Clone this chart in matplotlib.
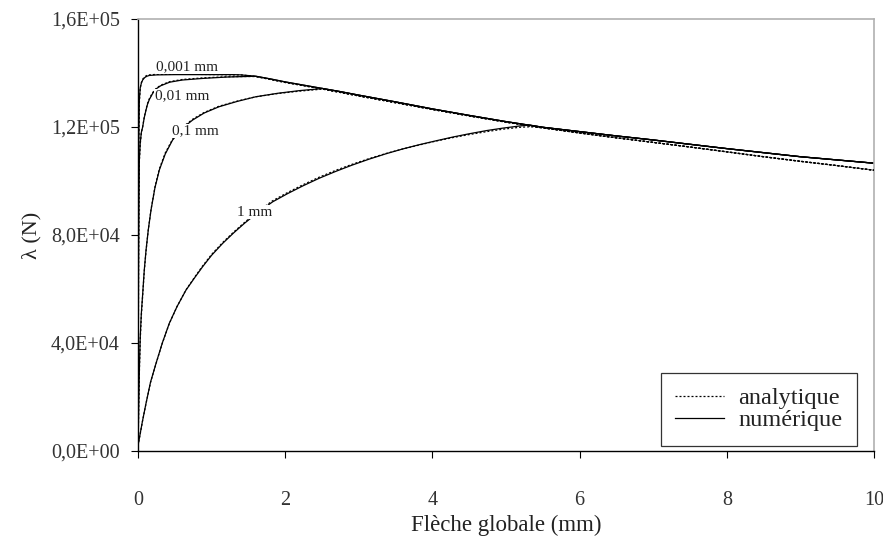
import matplotlib
matplotlib.use("Agg")
import matplotlib.pyplot as plt
from matplotlib.ticker import FixedLocator, FixedFormatter

plt.rcParams["font.family"] = ["Liberation Serif", "DejaVu Serif"]

# load-deflection curves, one per initial imperfection (mm)
case_labels = ["0,001 mm", "0,01 mm", "0,1 mm", "1 mm"]

# rising parts, numerical model
num_x_0001 = [0, 0.003, 0.006, 0.01, 0.018, 0.03, 0.045, 0.063, 0.09, 0.12, 0.154, 0.25, 0.5, 0.8, 1.1, 1.3]
num_y_0001 = [0, 4.0e4, 8.0e4, 1.15e5, 1.30e5, 1.345e5, 1.362e5, 1.374e5, 1.383e5, 1.388e5, 1.391e5,
              1.393e5, 1.394e5, 1.394e5, 1.394e5, 1.394e5]
num_x_001 = [0, 0.004, 0.008, 0.012, 0.018, 0.03, 0.045, 0.063, 0.085, 0.109, 0.13, 0.154, 0.2, 0.25,
             0.31, 0.43, 0.6, 0.88, 1.2, 1.45]
num_y_001 = [0, 4.0e4, 7.5e4, 9.5e4, 1.078e5, 1.14e5, 1.18e5, 1.20e5, 1.235e5, 1.263e5, 1.285e5, 1.302e5,
             1.325e5, 1.342e5, 1.353e5, 1.366e5, 1.374e5, 1.38e5, 1.385e5, 1.387e5]
num_x_01 = [0, 0.01, 0.02, 0.03, 0.045, 0.063, 0.085, 0.109, 0.14, 0.177, 0.23, 0.29, 0.37, 0.47, 0.6,
            0.743, 0.9, 1.1, 1.35, 1.6, 1.9, 2.2, 2.45]
num_y_01 = [0, 1.8e4, 3.2e4, 4.2e4, 5.1e4, 5.8e4, 6.7e4, 7.44e4, 8.2e4, 8.93e4, 9.75e4, 1.041e5, 1.10e5,
            1.152e5, 1.195e5, 1.226e5, 1.252e5, 1.275e5, 1.295e5, 1.312e5, 1.325e5, 1.335e5, 1.341e5]
num_x_1 = [0, 0.03, 0.06, 0.109, 0.17, 0.245, 0.33, 0.425, 0.53, 0.652, 0.77, 0.879, 1.0, 1.15, 1.3,
           1.445, 1.63, 1.83, 2.03, 2.24, 2.46, 2.69, 2.91, 3.14, 3.37, 3.6, 3.83, 4.05, 4.28, 4.5,
           4.74, 4.96, 5.19, 5.33]
num_y_1 = [2.0e3, 6.5e3, 1.1e4, 1.77e4, 2.55e4, 3.25e4, 4.0e4, 4.73e4, 5.35e4, 5.96e4, 6.42e4, 6.83e4,
           7.25e4, 7.69e4, 8.08e4, 8.43e4, 8.84e4, 9.23e4, 9.53e4, 9.82e4, 1.01e5, 1.036e5, 1.059e5,
           1.081e5, 1.101e5, 1.119e5, 1.135e5, 1.149e5, 1.163e5, 1.175e5, 1.187e5, 1.196e5, 1.204e5, 1.207e5]

# rising parts, analytical model
ana_x_0001 = [0, 0.003, 0.006, 0.01, 0.018, 0.03, 0.045, 0.063, 0.09, 0.12, 0.154, 0.25, 0.5, 0.8, 1.1, 1.3]
ana_y_0001 = [0, 3.8e4, 7.8e4, 1.13e5, 1.29e5, 1.343e5, 1.364e5, 1.377e5, 1.386e5, 1.391e5, 1.393e5,
              1.395e5, 1.395e5, 1.395e5, 1.394e5, 1.393e5]
ana_x_001 = [0, 0.004, 0.008, 0.012, 0.018, 0.03, 0.045, 0.063, 0.085, 0.109, 0.13, 0.154, 0.2, 0.25,
             0.31, 0.43, 0.6, 0.88, 1.2, 1.45]
ana_y_001 = [0, 3.8e4, 7.3e4, 9.3e4, 1.07e5, 1.135e5, 1.178e5, 1.20e5, 1.237e5, 1.266e5, 1.288e5, 1.305e5,
             1.328e5, 1.344e5, 1.355e5, 1.368e5, 1.376e5, 1.382e5, 1.386e5, 1.387e5]
ana_x_01 = [0, 0.01, 0.02, 0.03, 0.045, 0.063, 0.085, 0.109, 0.14, 0.177, 0.23, 0.29, 0.37, 0.47, 0.6,
            0.743, 0.9, 1.1, 1.35, 1.6, 1.9, 2.2, 2.45]
ana_y_01 = [0, 1.7e4, 3.1e4, 4.1e4, 5.0e4, 5.75e4, 6.65e4, 7.4e4, 8.2e4, 8.95e4, 9.78e4, 1.045e5, 1.104e5,
            1.155e5, 1.198e5, 1.229e5, 1.254e5, 1.277e5, 1.296e5, 1.312e5, 1.324e5, 1.333e5, 1.339e5]
ana_x_1 = [0, 0.03, 0.06, 0.109, 0.17, 0.245, 0.33, 0.425, 0.53, 0.652, 0.77, 0.879, 1.0, 1.15, 1.3,
           1.445, 1.63, 1.83, 2.03, 2.24, 2.46, 2.69, 2.91, 3.14, 3.37, 3.6, 3.83, 4.05, 4.28, 4.5,
           4.74, 4.96, 5.19, 5.33]
ana_y_1 = [2.0e3, 6.4e3, 1.09e4, 1.76e4, 2.54e4, 3.24e4, 3.99e4, 4.72e4, 5.35e4, 5.97e4, 6.44e4, 6.86e4,
           7.28e4, 7.72e4, 8.11e4, 8.46e4, 8.88e4, 9.27e4, 9.57e4, 9.86e4, 1.014e5, 1.04e5, 1.062e5,
           1.083e5, 1.102e5, 1.119e5, 1.134e5, 1.148e5, 1.161e5, 1.172e5, 1.183e5, 1.192e5, 1.199e5, 1.201e5]

# common post-buckling branch
num_tail_x = [1.4, 1.6, 1.8, 2.0, 2.25, 2.5, 2.75, 3.0, 3.5, 4.0, 4.5, 5.0, 5.5, 6.0, 6.5, 7.0,
              7.5, 8.0, 8.5, 9.0, 9.5, 10.0]
num_tail_y = [1.393e5, 1.388e5, 1.378e5, 1.367e5, 1.355e5, 1.343e5, 1.331e5, 1.318e5, 1.293e5, 1.267e5,
              1.243e5, 1.22e5, 1.199e5, 1.183e5, 1.167e5, 1.152e5, 1.136e5, 1.12e5, 1.105e5, 1.09e5,
              1.078e5, 1.066e5]
ana_tail_x = [1.4, 1.6, 1.8, 2.0, 2.25, 2.5, 2.75, 3.0, 3.5, 4.0, 4.5, 5.0, 5.5, 6.0, 6.5, 7.0,
              7.5, 8.0, 8.5, 9.0, 9.5, 10.0]
ana_tail_y = [1.393e5, 1.387e5, 1.376e5, 1.365e5, 1.353e5, 1.341e5, 1.328e5, 1.315e5, 1.29e5, 1.265e5,
              1.241e5, 1.218e5, 1.197e5, 1.178e5, 1.16e5, 1.143e5, 1.126e5, 1.108e5, 1.09e5, 1.073e5,
              1.057e5, 1.04e5]

y_ticks = [0, 4e4, 8e4, 1.2e5, 1.6e5]
y_tick_labels = ["0,0E+00", "4,0E+04", "8,0E+04", "1,2E+05", "1,6E+05"]
x_ticks = [0, 2, 4, 6, 8, 10]

# label positions for each curve (data coords)
label_x = [0.67, 0.6, 0.78, 1.58]
label_y = [1.422e5, 1.315e5, 1.185e5, 8.85e4]


def with_tail(xs, ys, tx, ty):
    start = next(i for i, v in enumerate(tx) if v > xs[-1])
    return xs + tx[start:], ys + ty[start:]


fig = plt.figure(figsize=(8.83, 5.37), dpi=100)
ax = fig.add_axes([0.1563, 0.1601, 0.8335, 0.8045])

num_sets = [(num_x_0001, num_y_0001), (num_x_001, num_y_001), (num_x_01, num_y_01), (num_x_1, num_y_1)]
ana_sets = [(ana_x_0001, ana_y_0001), (ana_x_001, ana_y_001), (ana_x_01, ana_y_01), (ana_x_1, ana_y_1)]

for i, ((nx, ny), (axx, ay)) in enumerate(zip(num_sets, ana_sets)):
    ax_, ay_ = with_tail(axx, ay, ana_tail_x, ana_tail_y)
    nx_, ny_ = with_tail(nx, ny, num_tail_x, num_tail_y)
    ax.plot(ax_, ay_, color="black", lw=0.9, linestyle=(0, (1.6, 1.6)),
            label="analytique" if i == 0 else None, zorder=3)
    ax.plot(nx_, ny_, color="black", lw=0.9, linestyle="-",
            label="numérique" if i == 0 else None, zorder=2)

for lx, ly, txt in zip(label_x, label_y, case_labels):
    ax.text(lx, ly, txt, fontsize=11, ha="center", va="center", zorder=5, color="#222222",
            bbox=dict(facecolor="white", edgecolor="none", pad=0.5))

ax.set_xlim(0, 10)
ax.set_ylim(0, 1.6e5)
ax.xaxis.set_major_locator(FixedLocator(x_ticks))
ax.yaxis.set_major_locator(FixedLocator(y_ticks))
ax.yaxis.set_major_formatter(FixedFormatter(y_tick_labels))
ax.tick_params(axis="both", direction="out", length=5, width=0.8, labelsize=14.5,
               colors="black", labelcolor="#333333")
ax.tick_params(axis="x", pad=24)
ax.tick_params(axis="y", pad=8)

for side in ["top", "right"]:
    ax.spines[side].set_color("#b0b0b0")
    ax.spines[side].set_linewidth(1.2)
for side in ["left", "bottom"]:
    ax.spines[side].set_color("black")
    ax.spines[side].set_linewidth(1.0)

ax.set_xlabel("Flèche globale (mm)", fontsize=16.5, color="#222222", labelpad=3)
ax.set_ylabel("λ (N)", fontsize=16, color="#222222", labelpad=7)

leg = ax.legend(loc="lower right", bbox_to_anchor=(0.977, 0.0116), borderaxespad=0,
                fontsize=17.5, handlelength=2.0, frameon=True, fancybox=False,
                borderpad=0.6, labelspacing=0.0, handletextpad=0.6)
leg.get_frame().set_edgecolor("black")
leg.get_frame().set_linewidth(0.9)
for t in leg.get_texts():
    t.set_color("#222222")

fig.savefig("out.png", dpi=100)
